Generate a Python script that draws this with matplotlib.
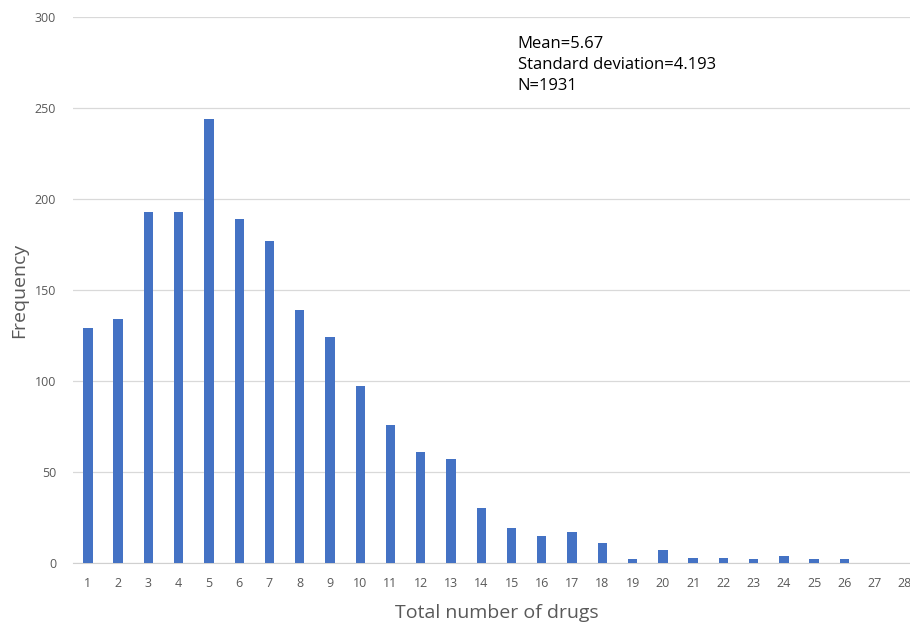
import matplotlib
matplotlib.use('Agg')
import matplotlib.pyplot as plt
import numpy as np

plt.rcParams['font.family'] = ['Open Sans', 'DejaVu Sans']

# 药物总数的频数分布
drugs = list(range(1, 29))
freq = [129, 134, 193, 193, 244, 189, 177, 139, 124, 97, 76, 61, 57, 30,
        19, 15, 17, 11, 2, 7, 3, 3, 2, 4, 2, 2, 0, 0]
stats_text = ['Mean=5.67', 'Standard deviation=4.193', 'N=1931']

fig = plt.figure(figsize=(9.1, 6.22), dpi=100)
ax = fig.add_axes([0.080, 0.0949, 0.931, 0.8778])

x = np.arange(len(drugs))
ax.bar(x, freq, width=0.31, color='#4472C4', zorder=3)

ax.set_xlim(-0.5, len(drugs) - 0.5)
ax.set_ylim(0, 300)
ax.set_yticks(range(0, 301, 50))
ax.set_xticks(x)
ax.set_xticklabels([str(d) for d in drugs])

ax.grid(axis='y', color='#d9d9d9', linewidth=0.9, zorder=0)
for s in ['top', 'right', 'left']:
    ax.spines[s].set_visible(False)
ax.spines['bottom'].set_color('#d0d0d0')
ax.tick_params(axis='both', length=0, labelsize=9, colors='#595959')
ax.tick_params(axis='x', pad=10)
ax.tick_params(axis='y', pad=12)

ax.set_xlabel('Total number of drugs', fontsize=14, color='#595959', labelpad=10)
ax.set_ylabel('Frequency', fontsize=14, color='#595959', labelpad=5)

ax.text(0.525, 0.965, '\n'.join(stats_text), transform=ax.transAxes,
        fontsize=12, color='black', va='top', ha='left', linespacing=1.4)

fig.savefig('out.png', dpi=100)
